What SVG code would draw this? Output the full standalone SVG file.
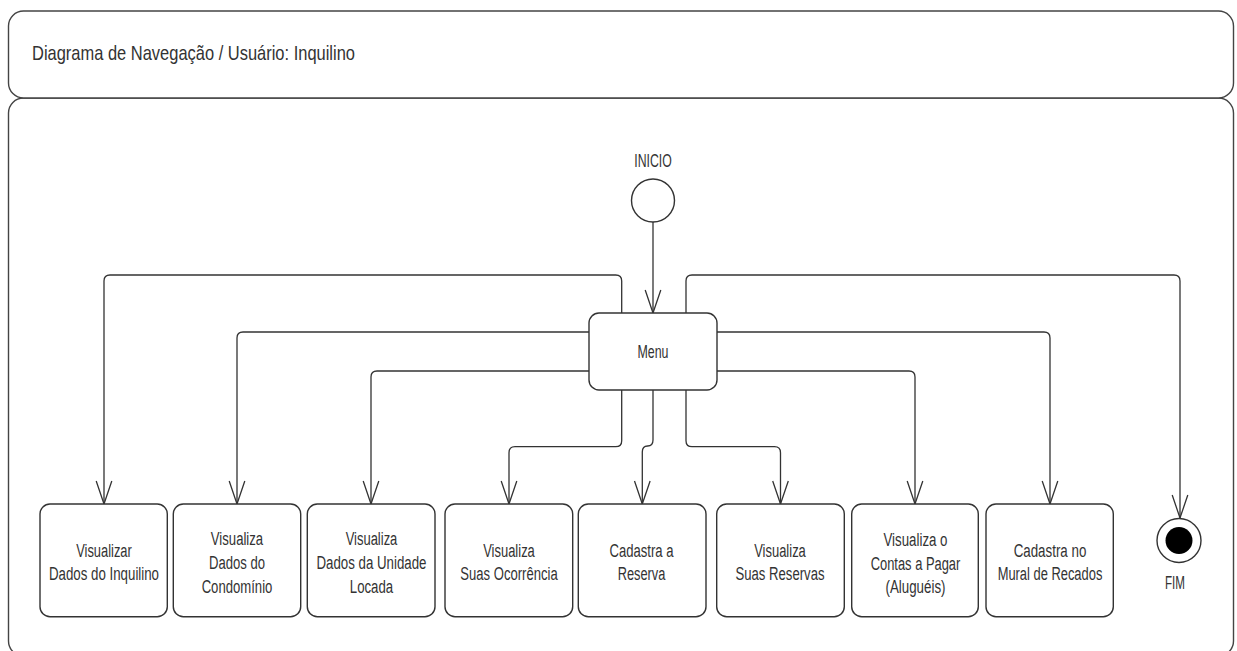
<svg xmlns="http://www.w3.org/2000/svg" width="1237" height="651" viewBox="0 0 1237 651">
<style>
.frame{fill:#fff;stroke:#444;stroke-width:1.4}
.box{fill:#fff;stroke:#333;stroke-width:1.4}
.con{fill:none;stroke:#333;stroke-width:1.3}
text{font-family:"Liberation Sans",Arial,sans-serif;fill:#333}
.t{font-size:18px;text-anchor:middle}
.h{font-size:21px}
</style>
<defs>
<marker id="arr" markerUnits="userSpaceOnUse" markerWidth="30" markerHeight="20" refX="0" refY="0" viewBox="-24 -10 26 20" orient="auto" overflow="visible">
<path d="M-23,-7.8 L0,0 L-23,7.8" fill="none" stroke="#333" stroke-width="1.3"/>
</marker>
</defs>
<rect width="1237" height="651" fill="#fff"/>
<g id="frame-body"><rect class="frame" x="8.5" y="98" width="1225" height="558" rx="15"/></g>
<g id="frame-header"><rect class="frame" x="8.5" y="11" width="1225" height="87" rx="15"/>
<text class="h" x="32" y="59.5" textLength="323" lengthAdjust="spacingAndGlyphs">Diagrama de Navegação / Usuário: Inquilino</text></g>

<g id="connectors">
<path class="con" d="M653,222 V313" marker-end="url(#arr)"/>
<path class="con" d="M621.7,313 V281 Q621.7,275 615.7,275 H110 Q104,275 104,281 V504" marker-end="url(#arr)"/>
<path class="con" d="M686,313 V281 Q686,275 692,275 H1174 Q1180,275 1180,281 V518" marker-end="url(#arr)"/>
<path class="con" d="M589,332 H243 Q237,332 237,338 V504" marker-end="url(#arr)"/>
<path class="con" d="M589,371 H377 Q371,371 371,377 V504" marker-end="url(#arr)"/>
<path class="con" d="M621.7,390 V440.7 Q621.7,446.7 615.7,446.7 H515 Q509,446.7 509,452.7 V504" marker-end="url(#arr)"/>
<path class="con" d="M653,390 V440 Q653,446 647.6,446 Q642.3,446 642.3,452 V504" marker-end="url(#arr)"/>
<path class="con" d="M686,390 V440.7 Q686,446.7 692,446.7 H774.5 Q780.5,446.7 780.5,452.7 V504" marker-end="url(#arr)"/>
<path class="con" d="M717,371 H909 Q915,371 915,377 V504" marker-end="url(#arr)"/>
<path class="con" d="M717,332 H1044 Q1050,332 1050,338 V504" marker-end="url(#arr)"/>
</g>

<g id="inicio">
<circle class="box" cx="653" cy="200.5" r="21.5"/>
<text class="t" x="653" y="166.5" textLength="37.5" lengthAdjust="spacingAndGlyphs">INICIO</text>
</g>
<g id="menu">
<rect class="box" x="589" y="313" width="128" height="77" rx="10"/>
<text class="t" x="653" y="357.5" textLength="31" lengthAdjust="spacingAndGlyphs">Menu</text>
</g>
<g id="fim">
<circle class="box" cx="1179" cy="540.5" r="22"/>
<circle cx="1179" cy="540.5" r="13.5" fill="#000"/>
<text class="t" x="1175" y="588.5" textLength="20" lengthAdjust="spacingAndGlyphs">FIM</text>
</g>

<g id="n1">
<rect class="box" x="40" y="504" width="127.3" height="112.7" rx="10"/>
<text class="t" x="104" y="556.5" textLength="55.7" lengthAdjust="spacingAndGlyphs">Visualizar</text>
<text class="t" x="104" y="579.5" textLength="110" lengthAdjust="spacingAndGlyphs">Dados do Inquilino</text>
</g>
<g id="n2">
<rect class="box" x="173.3" y="504" width="127.4" height="112.7" rx="10"/>
<text class="t" x="237" y="545" textLength="52.3" lengthAdjust="spacingAndGlyphs">Visualiza</text>
<text class="t" x="237" y="569" textLength="56" lengthAdjust="spacingAndGlyphs">Dados do</text>
<text class="t" x="237" y="592.5" textLength="70.7" lengthAdjust="spacingAndGlyphs">Condomínio</text>
</g>
<g id="n3">
<rect class="box" x="307.3" y="504" width="127.7" height="112.7" rx="10"/>
<text class="t" x="371.5" y="545" textLength="51.7" lengthAdjust="spacingAndGlyphs">Visualiza</text>
<text class="t" x="371.5" y="569" textLength="110" lengthAdjust="spacingAndGlyphs">Dados da Unidade</text>
<text class="t" x="371.5" y="592.5" textLength="43.3" lengthAdjust="spacingAndGlyphs">Locada</text>
</g>
<g id="n4">
<rect class="box" x="445" y="504" width="127.7" height="112.7" rx="10"/>
<text class="t" x="509" y="556.5" textLength="51.7" lengthAdjust="spacingAndGlyphs">Visualiza</text>
<text class="t" x="509" y="579.5" textLength="97.3" lengthAdjust="spacingAndGlyphs">Suas Ocorrência</text>
</g>
<g id="n5">
<rect class="box" x="578.3" y="504" width="127.7" height="112.7" rx="10"/>
<text class="t" x="641.5" y="556.5" textLength="64" lengthAdjust="spacingAndGlyphs">Cadastra a</text>
<text class="t" x="641.5" y="579.5" textLength="47.7" lengthAdjust="spacingAndGlyphs">Reserva</text>
</g>
<g id="n6">
<rect class="box" x="716.7" y="504" width="127.6" height="112.7" rx="10"/>
<text class="t" x="780" y="556.5" textLength="51.7" lengthAdjust="spacingAndGlyphs">Visualiza</text>
<text class="t" x="780" y="579.5" textLength="89" lengthAdjust="spacingAndGlyphs">Suas Reservas</text>
</g>
<g id="n7">
<rect class="box" x="851.7" y="504" width="126.6" height="112.7" rx="10"/>
<text class="t" x="915.5" y="545.5" textLength="64" lengthAdjust="spacingAndGlyphs">Visualiza o</text>
<text class="t" x="915.5" y="569.5" textLength="89.7" lengthAdjust="spacingAndGlyphs">Contas a Pagar</text>
<text class="t" x="915.5" y="592.5" textLength="60" lengthAdjust="spacingAndGlyphs">(Aluguéis)</text>
</g>
<g id="n8">
<rect class="box" x="986" y="504" width="127.3" height="112.7" rx="10"/>
<text class="t" x="1050" y="556.5" textLength="72.7" lengthAdjust="spacingAndGlyphs">Cadastra no</text>
<text class="t" x="1050" y="579.5" textLength="104.7" lengthAdjust="spacingAndGlyphs">Mural de Recados</text>
</g>
</svg>
